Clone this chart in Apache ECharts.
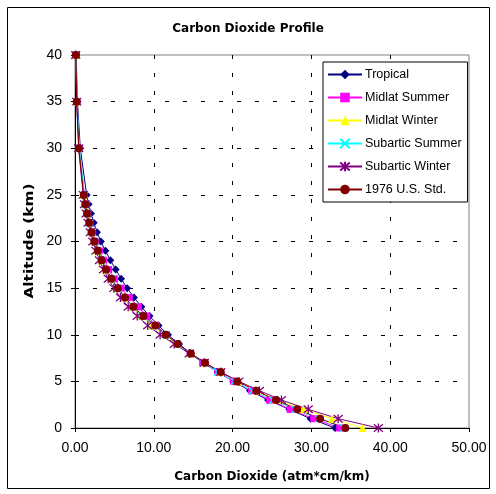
<!DOCTYPE html>
<html>
<head>
<meta charset="utf-8">
<script src="https://cdn.jsdelivr.net/npm/echarts@6/dist/echarts.min.js"></script>
<style>
  html, body { margin: 0; padding: 0; background: #fff; }
  #chart { width: 496px; height: 494px; }
</style>
</head>
<body>
<div id="chart"></div>
<script>
// altitude levels (km)
const altitudes = [0, 1, 2, 3, 4, 5, 6, 7, 8, 9, 10, 11, 12, 13, 14, 15, 16, 17, 18, 19, 20, 21, 22, 23, 24, 25, 30, 35, 40];

// CO2 amounts (atm*cm/km), one value per altitude
const tropical = [33.0, 29.9, 27.2, 24.5, 22.2, 20.1, 18.1, 16.3, 14.7, 13.2, 11.8, 10.6, 9.46, 8.42, 7.48, 6.62, 5.85, 5.16, 4.49, 3.86, 3.28, 2.79, 2.38, 2.03, 1.73, 1.48, 0.67, 0.31, 0.14];
const midlatSummer = [33.6, 30.3, 27.3, 24.7, 22.4, 20.1, 18.1, 16.2, 14.6, 13.0, 11.6, 10.3, 9.12, 8.05, 6.89, 5.85, 5.00, 4.27, 3.64, 3.10, 2.63, 2.25, 1.91, 1.64, 1.40, 1.19, 0.55, 0.26, 0.13];
const midlatWinter = [36.5, 32.6, 29.0, 25.7, 23.1, 20.7, 18.4, 16.4, 14.6, 12.9, 11.3, 9.74, 8.35, 7.16, 6.14, 5.27, 4.51, 3.86, 3.31, 2.83, 2.42, 2.06, 1.76, 1.51, 1.29, 1.10, 0.50, 0.22, 0.10];
const subarcticSummer = [34.1, 30.9, 27.9, 25.1, 22.5, 20.2, 18.1, 16.3, 14.6, 13.0, 11.5, 9.91, 8.52, 7.33, 6.29, 5.41, 4.65, 4.00, 3.44, 2.96, 2.54, 2.18, 1.88, 1.61, 1.38, 1.18, 0.55, 0.26, 0.13];
const subarcticWinter = [38.5, 33.4, 29.6, 26.2, 23.4, 20.8, 18.5, 16.4, 14.5, 12.6, 10.8, 9.23, 7.89, 6.75, 5.77, 4.93, 4.22, 3.62, 3.10, 2.65, 2.27, 1.94, 1.66, 1.42, 1.21, 1.04, 0.46, 0.21, 0.09];
const usStd1976 = [34.3, 31.1, 28.2, 25.5, 23.0, 20.6, 18.5, 16.5, 14.7, 13.05, 11.55, 10.2, 8.69, 7.43, 6.35, 5.43, 4.64, 3.96, 3.39, 2.90, 2.45, 2.10, 1.80, 1.53, 1.31, 1.10, 0.48, 0.22, 0.12];

const seriesNames = ['Tropical', 'Midlat Summer', 'Midlat Winter', 'Subartic Summer', 'Subartic Winter', '1976 U.S. Std.'];
const seriesValues = [tropical, midlatSummer, midlatWinter, subarcticSummer, subarcticWinter, usStd1976];

const xTickLabels = ['0.00', '10.00', '20.00', '30.00', '40.00', '50.00'];
const yTickLabels = ['0', '5', '10', '15', '20', '25', '30', '35', '40'];

const FONT = 'Liberation Sans, Arial, sans-serif';
const BOLD_FONT = 'DejaVu Sans, Verdana, sans-serif';

const styles = [
  { color: '#000080', symbol: 'diamond', size: 8, border: 0 },
  { color: '#ff00ff', symbol: 'rect', size: 7, border: 0 },
  { color: '#ffff00', symbol: 'triangle', size: 8, border: 0 },
  { color: '#00ffff', symbol: 'path://M0,0L10,10M10,0L0,10', size: 7, border: 1.3 },
  { color: '#800080', symbol: 'path://M0,0L10,10M10,0L0,10M5,-1L5,11', size: 9, border: 1.3 },
  { color: '#800000', symbol: 'circle', size: 8, border: 0 },
];

function pairs(values) {
  return values.map((v, i) => [v, altitudes[i]]);
}

const series = seriesNames.map((name, i) => {
  const s = styles[i];
  return {
    name,
    type: 'line',
    data: pairs(seriesValues[i]),
    symbol: s.symbol,
    symbolSize: s.size,
    showSymbol: true,
    showAllSymbol: true,
    lineStyle: { color: s.color, width: 1 },
    itemStyle: { color: s.color, borderColor: s.color, borderWidth: s.border },
    emphasis: { disabled: true },
    animation: false,
  };
});

const chart = echarts.init(document.getElementById('chart'), null, { renderer: 'canvas' });

chart.setOption({
  animation: false,
  backgroundColor: '#fff',
  textStyle: { fontFamily: FONT },
  title: {
    text: 'Carbon Dioxide Profile',
    left: 'center',
    top: 18,
    textStyle: { fontFamily: BOLD_FONT, fontSize: 12, fontWeight: 'bold', color: '#000' },
  },
  graphic: [
    {
      type: 'rect',
      shape: { x: 7.5, y: 7.5, width: 482, height: 481 },
      style: { fill: 'none', stroke: '#000', lineWidth: 1 },
      silent: true,
    },
    {
      // y-axis title, stretched like the reference rendering
      type: 'text',
      x: 30,
      y: 241,
      rotation: Math.PI / 2,
      scaleX: 1.28,
      style: {
        text: 'Altitude (km)',
        font: 'bold 12px ' + BOLD_FONT,
        fill: '#000',
        align: 'center',
        verticalAlign: 'middle',
      },
      silent: true,
    },
  ],
  legend: {
    orient: 'vertical',
    left: 323,
    top: 62,
    padding: [6, 6, 6, 4],
    itemWidth: 34,
    itemHeight: 12,
    itemGap: 10,
    backgroundColor: '#fff',
    borderColor: '#000',
    borderWidth: 1,
    textStyle: { fontFamily: FONT, fontSize: 12.5, color: '#000', padding: [0, 0, 0, -2] },
    data: seriesNames,
  },
  grid: {
    left: 75,
    right: 27,
    top: 55,
    bottom: 66,
    show: true,
    borderColor: '#808080',
    borderWidth: 1,
  },
  xAxis: {
    type: 'value',
    min: 0,
    max: 50,
    interval: 10,
    name: 'Carbon Dioxide (atm*cm/km)',
    nameLocation: 'middle',
    nameGap: 43,
    nameTextStyle: { fontFamily: BOLD_FONT, fontSize: 12, fontWeight: 'bold', color: '#000' },
    axisLine: { lineStyle: { color: '#000', width: 1 } },
    axisTick: { show: true, length: 4, lineStyle: { color: '#000' } },
    axisLabel: {
      fontFamily: FONT, fontSize: 14, color: '#000', margin: 13,
      formatter: (v) => xTickLabels[Math.round(v / 10)],
    },
    splitLine: {
      show: true,
      lineStyle: { color: ['#000', '#000', '#000', '#000', '#000', 'rgba(0,0,0,0)'], type: [4, 14], width: 1 },
    },
  },
  yAxis: {
    type: 'value',
    min: 0,
    max: 40,
    interval: 5,
    axisLine: { show: true, lineStyle: { color: '#000', width: 1 } },
    axisTick: { show: true, length: 4, lineStyle: { color: '#000' } },
    axisLabel: {
      fontFamily: FONT, fontSize: 14, color: '#000', margin: 13,
      formatter: (v) => yTickLabels[Math.round(v / 5)],
    },
    splitLine: {
      show: true,
      lineStyle: { color: ['#000', '#000', '#000', '#000', '#000', '#000', '#000', '#000', 'rgba(0,0,0,0)'], type: [4, 14], width: 1 },
    },
  },
  series,
});
</script>
</body>
</html>
